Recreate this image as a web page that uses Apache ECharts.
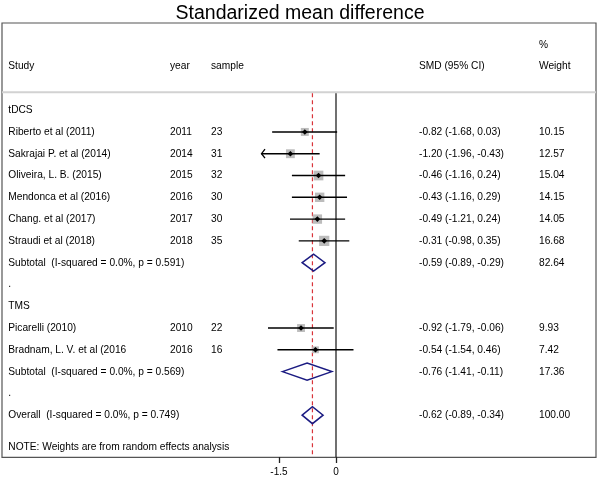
<!DOCTYPE html>
<html><head><meta charset="utf-8">
<script src="https://cdn.jsdelivr.net/npm/echarts@6/dist/echarts.min.js"></script>
<style>html,body{margin:0;padding:0;background:#fff}#c{width:600px;height:477px}</style>
</head><body><div id="c"></div>
<script>
// ---------- data ----------
const titleText = 'Standarized mean difference';
const groupNames = ['tDCS', 'TMS'];
const studyLabels = ['Riberto et al (2011)', 'Sakrajai P. et al (2014)', 'Oliveira, L. B. (2015)', 'Mendonca et al (2016)', 'Chang. et al (2017)', 'Straudi et al (2018)', 'Picarelli (2010)', 'Bradnam, L. V. et al (2016'];
const studyGroup = [0, 0, 0, 0, 0, 0, 1, 1];
const years = [2011, 2014, 2015, 2016, 2017, 2018, 2010, 2016];
const samples = [23, 31, 32, 30, 30, 35, 22, 16];
const smd = [-0.82, -1.20, -0.46, -0.43, -0.49, -0.31, -0.92, -0.54];
const ciLow = [-1.68, -1.96, -1.16, -1.16, -1.21, -0.98, -1.79, -1.54];
const ciHigh = [0.03, -0.43, 0.24, 0.29, 0.24, 0.35, -0.06, 0.46];
const weights = [10.15, 12.57, 15.04, 14.15, 14.05, 16.68, 9.93, 7.42];
const subtotalLabels = ['Subtotal  (I-squared = 0.0%, p = 0.591)', 'Subtotal  (I-squared = 0.0%, p = 0.569)'];
const subSmd = [-0.59, -0.76];
const subLow = [-0.89, -1.41];
const subHigh = [-0.29, -0.11];
const subWeight = [82.64, 17.36];
const overallLabel = 'Overall  (I-squared = 0.0%, p = 0.749)';
const overallSmd = -0.62, overallLow = -0.89, overallHigh = -0.34, overallWeight = 100.00;
const headerLabels = ['Study', 'year', 'sample', 'SMD (95% CI)', '%', 'Weight'];
const noteText = 'NOTE: Weights are from random effects analysis';
const xTicks = [-1.5, 0];
const nullValue = 0;

// ---------- layout ----------
const FONT = '"Liberation Sans", Arial, Helvetica, sans-serif';
const COL = { study: 6.3, year: 168, sample: 209, smd: 417, weight: 537 };
const Y_MIN = -4, Y_MAX = 15.92, SEP_ROW = -0.82, NOTE_ROW = 15.45;
const X_MIN = -1.96, X_MAX = 1.96;
const f2 = v => v.toFixed(2);
const ciText = (m, l, h) => `${f2(m)} (${f2(l)}, ${f2(h)})`;

const textItems = [];
const studyItems = [];
const pooledItems = [];
textItems.push([COL.study, -2, headerLabels[0]], [COL.year, -2, headerLabels[1]], [COL.sample, -2, headerLabels[2]],
  [COL.smd, -2, headerLabels[3]], [COL.weight, -3, headerLabels[4]], [COL.weight, -2, headerLabels[5]]);
let r = 0;
groupNames.forEach((g, gi) => {
  textItems.push([COL.study, r, g]); r++;
  studyGroup.forEach((sg, i) => {
    if (sg !== gi) return;
    textItems.push([COL.study, r, studyLabels[i]], [COL.year, r, String(years[i])], [COL.sample, r, String(samples[i])],
      [COL.smd, r, ciText(smd[i], ciLow[i], ciHigh[i])], [COL.weight, r, f2(weights[i])]);
    studyItems.push([smd[i], r, ciLow[i], ciHigh[i], weights[i]]);
    r++;
  });
  textItems.push([COL.study, r, subtotalLabels[gi]], [COL.smd, r, ciText(subSmd[gi], subLow[gi], subHigh[gi])], [COL.weight, r, f2(subWeight[gi])]);
  pooledItems.push([subSmd[gi], r, subLow[gi], subHigh[gi]]);
  r++;
  textItems.push([COL.study, r, '.']); r++;
});
textItems.push([COL.study, r, overallLabel], [COL.smd, r, ciText(overallSmd, overallLow, overallHigh)], [COL.weight, r, f2(overallWeight)]);
pooledItems.push([overallSmd, r, overallLow, overallHigh]);
textItems.push([COL.study, NOTE_ROW, noteText]);

const chart = echarts.init(document.getElementById('c'), null, { renderer: 'canvas' });
const gridTop = 23, gridH = 434.3;
chart.setOption({
  animation: false,
  backgroundColor: '#fff',
  title: { text: titleText, left: 'center', top: -1, textStyle: { fontFamily: FONT, fontSize: 19.5, fontWeight: 'normal', color: '#000' } },
  grid: [
    { left: 2, top: gridTop, width: 594, height: gridH, show: true, borderColor: '#555', borderWidth: 1.2, backgroundColor: '#fff' },
    { left: 261.5, top: gridTop, width: 149, height: gridH }
  ],
  xAxis: [
    { gridIndex: 0, type: 'value', min: 0, max: 594, show: false },
    { gridIndex: 1, type: 'value', min: X_MIN, max: X_MAX, position: 'bottom',
      axisLine: { show: false, onZero: false }, splitLine: { show: false },
      axisTick: { show: true, customValues: xTicks, length: 6, lineStyle: { color: '#222', width: 1.3 } },
      axisLabel: { customValues: xTicks, fontSize: 10, color: '#000', margin: 10, fontFamily: FONT } }
  ],
  yAxis: [
    { gridIndex: 0, type: 'value', min: Y_MIN, max: Y_MAX, inverse: true, show: false },
    { gridIndex: 1, type: 'value', min: Y_MIN, max: Y_MAX, inverse: true, show: false }
  ],
  series: [
    { // header separator
      type: 'custom', xAxisIndex: 0, yAxisIndex: 0, clip: false, z: 1,
      data: [[0, SEP_ROW, 594]],
      renderItem: (p, api) => {
        const a = api.coord([api.value(0), api.value(1)]), b = api.coord([api.value(2), api.value(1)]);
        return { type: 'line', shape: { x1: a[0], y1: a[1], x2: b[0], y2: b[1] }, style: { stroke: '#d2d2d2', lineWidth: 2 } };
      }
    },
    { // text columns
      type: 'custom', xAxisIndex: 0, yAxisIndex: 0, clip: false, z: 5,
      data: textItems,
      renderItem: (p, api) => {
        const it = textItems[p.dataIndex];
        const c = api.coord([it[0], it[1]]);
        return { type: 'text', x: c[0], y: c[1], style: { text: it[2], fill: '#000', font: '10.2px ' + FONT, textAlign: 'left', textVerticalAlign: 'middle' } };
      }
    },
    { // null line and overall line
      type: 'custom', xAxisIndex: 1, yAxisIndex: 1, clip: false, z: 2,
      data: [[nullValue, 0], [overallSmd, 1]],
      renderItem: (p, api) => {
        const a = api.coord([api.value(0), SEP_ROW]), b = api.coord([api.value(0), Y_MAX]);
        const dashed = api.value(1) === 1;
        return { type: 'line', shape: { x1: a[0], y1: a[1] + 1, x2: b[0], y2: b[1] },
          style: dashed ? { stroke: '#d9343a', lineWidth: 1.2, lineDash: [4, 3] } : { stroke: '#111', lineWidth: 1.2 } };
      }
    },
    { // studies
      type: 'custom', xAxisIndex: 1, yAxisIndex: 1, clip: false, z: 3,
      data: studyItems,
      renderItem: (p, api) => {
        const x = api.value(0), row = api.value(1), lo = api.value(2), hi = api.value(3), w = api.value(4);
        const c = api.coord([x, row]);
        const pl = api.coord([Math.max(lo, X_MIN), row]), ph = api.coord([Math.min(hi, X_MAX), row]);
        const s = 2.5 * Math.sqrt(w), d = 2.8;
        const ch = [
          { type: 'rect', shape: { x: c[0] - s / 2, y: c[1] - s / 2, width: s, height: s }, style: { fill: '#bcbcbc' } },
          { type: 'line', shape: { x1: pl[0], y1: c[1], x2: ph[0], y2: c[1] }, style: { stroke: '#000', lineWidth: 1.4 } },
          { type: 'polygon', shape: { points: [[c[0] - d, c[1]], [c[0], c[1] - d], [c[0] + d, c[1]], [c[0], c[1] + d]] }, style: { fill: '#000' } }
        ];
        if (lo <= X_MIN) ch.push({ type: 'polyline', shape: { points: [[pl[0] + 3.5, c[1] - 4.5], [pl[0], c[1]], [pl[0] + 3.5, c[1] + 4.5]] }, style: { stroke: '#000', fill: null, lineWidth: 1.3 } });
        return { type: 'group', children: ch };
      }
    },
    { // pooled diamonds
      type: 'custom', xAxisIndex: 1, yAxisIndex: 1, clip: false, z: 4,
      data: pooledItems,
      renderItem: (p, api) => {
        const row = api.value(1);
        const c = api.coord([api.value(0), row]), l = api.coord([api.value(2), row]), h = api.coord([api.value(3), row]);
        const hh = 8.5;
        return { type: 'polygon', shape: { points: [[l[0], c[1]], [c[0], c[1] - hh], [h[0], c[1]], [c[0], c[1] + hh]] },
          style: { stroke: '#1b1b82', fill: null, lineWidth: 1.5 } };
      }
    }
  ]
});
</script></body></html>
